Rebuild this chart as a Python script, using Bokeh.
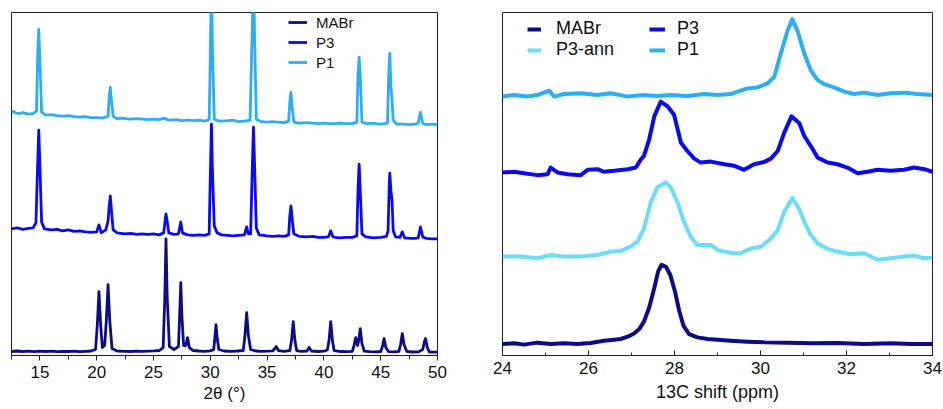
from bokeh.plotting import figure
from bokeh.layouts import row
from bokeh.models import Legend, LegendItem, SingleIntervalTicker, Range1d
from bokeh.embed import file_html
from bokeh.resources import INLINE

# ---------------- XRD data (2theta in degrees, stacked intensity, arb. units) ----------------
mabr_xrd_x = [12.5, 13.0, 13.5, 14.0, 14.5, 15.0, 15.5, 16.0, 16.5, 17.0, 17.5, 18.0, 18.5, 19.0, 19.5, 19.9,
              20.05, 20.2, 20.35, 20.5, 20.7, 20.85, 21.0, 21.15, 21.35, 21.8, 22.5, 23.0, 23.5, 24.0, 24.5,
              25.0, 25.5, 25.85, 26.0, 26.1, 26.2, 26.4, 26.8, 27.2, 27.3, 27.4, 27.5, 27.65, 27.85, 28.0,
              28.15, 28.5, 29.0, 29.5, 30.0, 30.3, 30.4, 30.5, 30.6, 30.75, 31.2, 31.8, 32.4, 32.9, 33.05,
              33.2, 33.35, 33.55, 34.0, 34.5, 35.0, 35.5, 35.8, 36.0, 36.5, 37.0, 37.15, 37.3, 37.45, 37.6,
              38.0, 38.5, 38.7, 38.9, 39.5, 40.0, 40.3, 40.45, 40.6, 40.75, 40.9, 41.5, 42.0, 42.5, 42.65,
              42.8, 42.95, 43.05, 43.2, 43.35, 43.55, 44.0, 44.5, 45.0, 45.15, 45.3, 45.45, 45.7, 46.2, 46.6,
              46.75, 46.9, 47.05, 47.3, 47.8, 48.3, 48.7, 48.85, 48.95, 49.1, 49.3, 49.7, 50.0]
mabr_xrd_y = [4.0, 4.5, 4.0, 4.3, 3.9, 4.4, 4.0, 4.3, 3.8, 4.2, 4.0, 4.4, 3.9, 4.2, 4.5, 6,
              30, 64, 30, 8, 10, 35, 71, 35, 7, 4.5, 4.2, 4.0, 4.3, 4.1, 4.4,
              4.6, 5.0, 8, 60, 117, 60, 9, 6, 9, 40, 73, 40, 10, 10, 18,
              8, 5, 4.5, 4.2, 4.6, 6, 18, 31, 18, 6, 4.5, 4.2, 4.5, 5, 20,
              43, 20, 6, 4.5, 4.2, 4.3, 4.6, 9, 5, 4.2, 4.8, 15, 34, 15, 5,
              4.2, 4.5, 8, 4.5, 4.0, 4.3, 5.5, 15, 34, 15, 5, 4.0, 3.8, 4.2, 10,
              18, 10, 14, 27, 12, 4.5, 3.8, 3.6, 4.0, 9, 17, 8, 3.8, 3.6, 4.2,
              11, 22, 11, 4, 3.5, 3.6, 6, 14, 17, 8, 3.5, 3.3, 3.3]

p3_xrd_x = [12.5, 13.0, 13.5, 14.0, 14.4, 14.65, 14.8, 14.9, 15.0, 15.15, 15.4, 16.0, 16.5, 17.0, 17.5, 18.0,
            18.5, 19.0, 19.5, 20.0, 20.2, 20.4, 20.8, 21.0, 21.1, 21.2, 21.3, 21.45, 21.8, 22.5, 23.0, 23.5,
            24.0, 24.5, 25.0, 25.5, 25.9, 26.05, 26.1, 26.2, 26.35, 26.8, 27.2, 27.4, 27.55, 28.0, 28.5, 29.0,
            29.5, 29.9, 30.0, 30.1, 30.2, 30.35, 30.6, 31.0, 31.5, 32.0, 32.5, 33.0, 33.2, 33.35, 33.55, 33.7,
            33.8, 33.9, 34.05, 34.3, 35.0, 35.5, 36.0, 36.5, 36.9, 37.0, 37.1, 37.2, 37.35, 37.8, 38.5, 39.0,
            39.5, 40.0, 40.4, 40.6, 40.8, 41.3, 42.0, 42.5, 42.9, 43.0, 43.1, 43.2, 43.35, 43.7, 44.3, 45.0,
            45.5, 45.65, 45.75, 45.8, 45.9, 46.0, 46.1, 46.3, 46.7, 46.9, 47.1, 47.6, 48.0, 48.3, 48.5, 48.7,
            49.0, 49.5, 50.0]
p3_xrd_y = [127, 128, 126.5, 127.5, 128, 133, 190, 226, 190, 134, 127, 126, 126.5, 125, 126, 124.5,
            125, 124, 123.5, 124, 131, 123, 126, 135, 150, 160, 145, 126, 123, 122, 122.5, 121.5,
            122, 121.5, 122, 121, 123, 138, 142, 135, 123, 121.5, 122, 134, 123, 121, 120.5, 121,
            120.5, 122, 180, 232, 180, 130, 123, 121, 120.5, 120, 120.5, 121, 129, 122, 122, 190,
            229, 190, 128, 121, 120, 119.5, 120, 119.5, 121, 140, 150, 138, 122, 119.5, 119, 119.5,
            118.5, 118.5, 119, 125, 119, 118, 118.5, 118.5, 120, 165, 192, 165, 122, 119, 118, 118.5,
            119.5, 125, 170, 183, 165, 155, 125, 119, 118.5, 124, 118, 117.5, 117.5, 118, 129, 119,
            117.5, 117, 117]

p1_xrd_x = [12.5, 12.7, 12.9, 13.2, 13.5, 14.0, 14.4, 14.7, 14.8, 14.9, 15.0, 15.15, 15.5, 16.0, 16.5, 17.0,
            17.5, 18.0, 18.5, 19.0, 19.5, 20.0, 20.5, 21.0, 21.1, 21.2, 21.3, 21.45, 21.8, 22.3, 22.8, 23.5,
            24.0, 24.5, 25.0, 25.5, 26.0, 26.3, 27.0, 27.5, 28.0, 28.5, 29.0, 29.5, 29.9, 30.0, 30.1, 30.2,
            30.35, 30.8, 31.5, 32.0, 32.5, 33.0, 33.5, 33.7, 33.8, 33.9, 34.05, 34.5, 35.0, 35.5, 36.0, 36.5,
            36.9, 37.0, 37.1, 37.2, 37.35, 37.8, 38.5, 39.0, 39.5, 40.0, 40.5, 41.0, 41.5, 42.0, 42.5, 42.9,
            43.0, 43.1, 43.2, 43.35, 43.8, 44.3, 44.8, 45.3, 45.6, 45.7, 45.8, 45.9, 46.0, 46.1, 46.4, 47.0,
            47.5, 48.0, 48.3, 48.5, 48.7, 49.0, 49.5, 50.0]
p1_xrd_y = [243, 245, 243, 242.5, 243.5, 242, 242.5, 245, 300, 327, 295, 244, 241, 241.5, 240.5, 240,
            240.5, 239.5, 239, 239.5, 238.5, 238.5, 238, 240, 260, 269, 255, 240, 237.5, 238, 237, 237.5,
            237, 236.5, 237, 236.5, 238, 236, 236.5, 235.5, 236, 235.5, 236, 235, 237, 300, 380, 300,
            237, 235, 235.5, 236, 234.5, 235, 236, 330, 380, 320, 237, 234.5, 234, 234.5, 234, 233.5,
            235, 255, 264, 250, 234, 233, 233.5, 233, 232.5, 233, 232.5, 232.5, 233, 232.5, 232.5, 234,
            280, 299, 280, 234, 232.5, 233, 232, 232.5, 233, 280, 303, 270, 255, 236, 232, 232,
            231.5, 232, 233, 244, 233, 231.5, 232, 231.5]

# ---------------- 13C NMR data (ppm, stacked intensity, arb. units) ----------------
mabr_nmr_x = [24.00, 24.27, 24.50, 24.81, 25.12, 25.43, 25.74, 26.05, 26.36, 26.60, 26.75, 26.91, 27.06,
              27.18, 27.29, 27.41, 27.53, 27.62, 27.70, 27.80, 27.90, 28.01, 28.11, 28.21, 28.34, 28.53,
              28.77, 29.00, 29.31, 29.70, 30.09, 30.63, 31.17, 31.79, 32.41, 33.03, 33.50, 34.00]
mabr_nmr_y = [11.7, 12.3, 11.0, 13.0, 11.7, 12.3, 11.7, 12.7, 15.0, 16.0, 16.7, 19.0, 22.3,
              26.7, 34.3, 48.3, 68.3, 85.0, 91.7, 89.7, 81.7, 65.0, 45.0, 30.0, 21.7, 18.3,
              16.7, 16.0, 15.0, 14.0, 13.3, 13.0, 12.3, 12.7, 11.7, 12.3, 11.7, 11.7]

p3ann_nmr_x = [24.00, 24.43, 24.81, 25.12, 25.43, 25.82, 26.21, 26.52, 26.75, 26.98, 27.14, 27.29, 27.45,
               27.60, 27.80, 27.91, 28.07, 28.22, 28.38, 28.53, 28.69, 28.84, 29.00, 29.16, 29.39, 29.54,
               29.78, 30.01, 30.24, 30.40, 30.55, 30.74, 30.90, 31.02, 31.17, 31.33, 31.56, 31.79, 32.10,
               32.41, 32.57, 32.72, 33.03, 33.34, 33.57, 33.81, 34.00]
p3ann_nmr_y = [100.0, 100.0, 98.3, 101.7, 100.0, 100.0, 101.7, 105.0, 105.7, 110.0, 115.0, 128.3, 155.0,
               170.0, 175.0, 170.0, 155.0, 135.0, 120.0, 111.7, 111.7, 111.7, 106.7, 105.0, 103.3, 103.3,
               108.3, 110.0, 118.3, 126.7, 145.0, 159.3, 148.3, 135.0, 121.7, 113.3, 107.7, 105.0, 102.3,
               103.3, 100.0, 96.7, 98.3, 100.0, 101.0, 98.3, 99.0]

p3_nmr_x = [24.00, 24.27, 24.50, 24.81, 25.05, 25.12, 25.28, 25.51, 25.82, 25.98, 26.21, 26.36, 26.60,
            26.91, 27.10, 27.22, 27.29, 27.41, 27.53, 27.68, 27.84, 27.99, 28.15, 28.30, 28.46, 28.61,
            28.84, 29.16, 29.39, 29.62, 29.85, 30.09, 30.24, 30.40, 30.55, 30.72, 30.90, 31.02, 31.17,
            31.33, 31.56, 31.79, 32.02, 32.26, 32.49, 32.72, 33.03, 33.34, 33.57, 33.81, 34.00]
p3_nmr_y = [185.0, 185.7, 184.3, 182.3, 183.3, 190.0, 185.0, 183.3, 182.3, 187.7, 188.3, 185.7, 186.7,
            188.3, 190.0, 198.3, 201.7, 218.3, 241.7, 256.7, 251.7, 243.3, 215.0, 206.7, 199.0, 195.0,
            196.0, 193.3, 191.7, 187.7, 193.3, 195.7, 199.0, 206.7, 225.0, 241.7, 235.0, 221.7, 211.7,
            200.0, 195.0, 193.3, 190.0, 184.3, 185.7, 187.7, 186.7, 187.7, 190.0, 188.3, 185.7]

p1_nmr_x = [24.00, 24.27, 24.58, 24.81, 25.09, 25.20, 25.43, 25.82, 26.21, 26.52, 26.91, 27.29, 27.60,
            27.91, 28.30, 28.69, 29.00, 29.31, 29.47, 29.70, 29.93, 30.16, 30.32, 30.47, 30.63, 30.74,
            30.86, 31.02, 31.17, 31.33, 31.48, 31.71, 31.95, 32.18, 32.41, 32.72, 33.03, 33.34, 33.65, 34.00]
p1_nmr_y = [261.7, 263.3, 261.7, 263.3, 267.7, 261.7, 264.3, 265.0, 263.3, 265.0, 261.7, 263.3, 262.3,
            263.3, 262.3, 264.3, 263.3, 264.3, 266.7, 270.0, 271.0, 275.0, 281.7, 305.0, 328.3, 340.0,
            328.3, 305.0, 288.3, 278.3, 274.3, 271.0, 266.7, 264.3, 265.7, 263.3, 265.0, 265.7, 264.3, 263.3]

xrd_labels = ["MABr", "P3", "P1"]
nmr_labels = ["MABr", "P3-ann", "P3", "P1"]

C_MABR = "#0C0C86"
C_P3 = "#0A0AF2"
C_P1 = "#2BAEF5"
C_P3ANN = "#6CDCFB"

FONT = "Liberation Sans"


def style(p, interval, ticks_inside, axis_label_size):
    p.xgrid.visible = False
    p.ygrid.visible = False
    p.yaxis.visible = False
    p.outline_line_color = "#222222"
    p.outline_line_width = 1
    p.background_fill_color = "white"
    p.border_fill_color = "white"
    ax = p.xaxis[0]
    ax.ticker = SingleIntervalTicker(interval=interval, num_minor_ticks=2)
    ax.axis_line_color = "#222222"
    ax.major_tick_line_color = "#222222"
    ax.minor_tick_line_color = "#222222"
    if ticks_inside:
        ax.major_tick_in, ax.major_tick_out = 5, 0
        ax.minor_tick_in, ax.minor_tick_out = 3, 0
        ax.major_label_standoff = 6
        ax.axis_label_standoff = 5
    else:
        ax.major_tick_in, ax.major_tick_out = 0, 5
        ax.minor_tick_in, ax.minor_tick_out = 0, 4
        ax.major_label_standoff = 5
        ax.axis_label_standoff = 3
    ax.major_label_text_font = FONT
    ax.major_label_text_font_size = "17px"
    ax.major_label_text_color = "#111111"
    ax.axis_label_text_font = FONT
    ax.axis_label_text_font_size = axis_label_size
    ax.axis_label_text_font_style = "normal"
    ax.axis_label_text_color = "#111111"


def make_legend(items, x, y, standoff, gw, size):
    lg = Legend(items=items, location=(x, y), orientation="vertical")
    lg.label_text_font = FONT
    lg.label_text_font_size = size
    lg.label_text_color = "#111111"
    lg.glyph_width = gw
    lg.glyph_height = 20
    lg.label_height = 20
    lg.label_standoff = standoff
    lg.spacing = 0
    lg.padding = 0
    lg.margin = 0
    lg.border_line_alpha = 0
    lg.background_fill_alpha = 0
    return lg


# ---------------- Left: XRD ----------------
p1 = figure(width=470, height=409, output_backend="svg", toolbar_location=None,
            x_range=Range1d(12.5, 50), y_range=Range1d(0, 344),
            min_border_left=11, min_border_right=33, min_border_top=12, min_border_bottom=54,
            x_axis_label="2θ (°)")
style(p1, 5, False, "17px")
r_mabr = p1.line(mabr_xrd_x, mabr_xrd_y, line_color=C_MABR, line_width=2.8, line_join="round")
r_p3 = p1.line(p3_xrd_x, p3_xrd_y, line_color=C_P3, line_width=2.8, line_join="round")
r_p1 = p1.line(p1_xrd_x, p1_xrd_y, line_color=C_P1, line_width=2.8, line_join="round")
lg1 = make_legend([LegendItem(label=xrd_labels[0], renderers=[r_mabr]),
                   LegendItem(label=xrd_labels[1], renderers=[r_p3]),
                   LegendItem(label=xrd_labels[2], renderers=[r_p1])],
                  277, 283, 9, 19, "15px")
p1.add_layout(lg1)

# ---------------- Right: 13C NMR ----------------
p2 = figure(width=473, height=409, output_backend="svg", toolbar_location=None,
            x_range=Range1d(24, 34), y_range=Range1d(0, 346.7),
            min_border_left=32, min_border_right=11, min_border_top=12, min_border_bottom=52,
            x_axis_label="13C shift (ppm)")
style(p2, 2, True, "18px")
n_mabr = p2.line(mabr_nmr_x, mabr_nmr_y, line_color=C_MABR, line_width=4, line_join="round")
n_p3ann = p2.line(p3ann_nmr_x, p3ann_nmr_y, line_color=C_P3ANN, line_width=4, line_join="round")
n_p3 = p2.line(p3_nmr_x, p3_nmr_y, line_color=C_P3, line_width=4, line_join="round")
n_p1 = p2.line(p1_nmr_x, p1_nmr_y, line_color=C_P1, line_width=4, line_join="round")
lgA = make_legend([LegendItem(label=nmr_labels[0], renderers=[n_mabr]),
                   LegendItem(label=nmr_labels[1], renderers=[n_p3ann])],
                  25, 295, 15, 14, "18px")
lgB = make_legend([LegendItem(label=nmr_labels[2], renderers=[n_p3]),
                   LegendItem(label=nmr_labels[3], renderers=[n_p1])],
                  147, 295, 12, 16, "18px")
p2.add_layout(lgA)
p2.add_layout(lgB)

layout = row(p1, p2)
open("out.html", "w").write(file_html(layout, INLINE))
